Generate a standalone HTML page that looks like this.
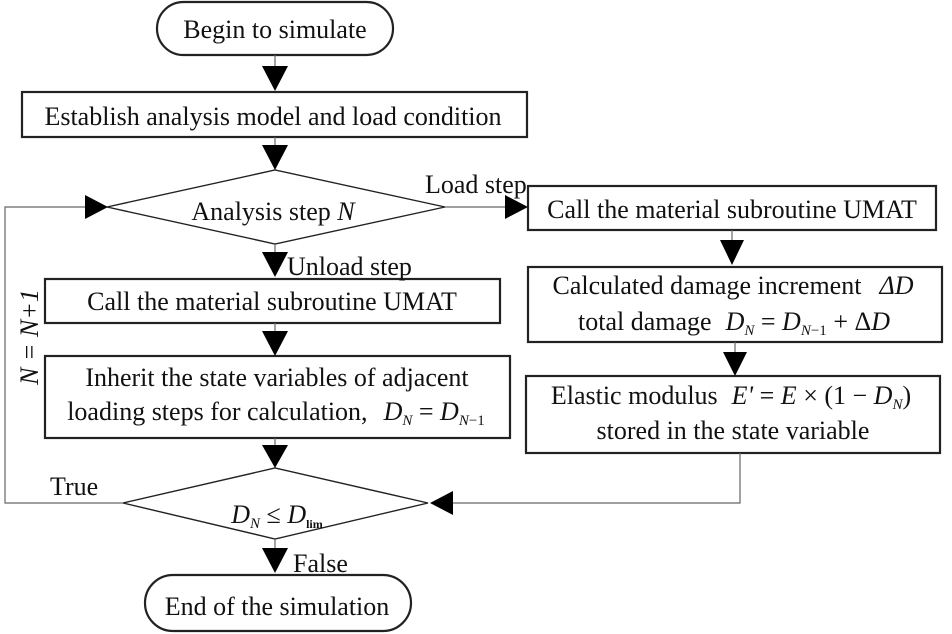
<!DOCTYPE html>
<html><head><style>
html,body{margin:0;padding:0;background:#fff;}
svg{display:block;font-family:"Liberation Serif",serif;}
text{font-size:26px;fill:#111;}
.i{font-style:italic;}
.s{font-size:15px;}
</style></head><body>
<svg width="952" height="634" viewBox="0 0 952 634" xmlns="http://www.w3.org/2000/svg">
<g fill="none" stroke="#222" stroke-width="2.2">
<rect x="157" y="2" width="236" height="53" rx="26.5"/>
<rect x="22" y="92" width="505" height="45"/>
<polygon points="107,207 275,170 445,207 275,244" stroke-width="1.4"/>
<rect x="45" y="279" width="455" height="44"/>
<rect x="45" y="356" width="465" height="82"/>
<polygon points="123,503 275,468 428,503 275,539" stroke-width="1.4"/>
<rect x="145" y="575" width="266" height="56" rx="28"/>
<rect x="528" y="186" width="408" height="44"/>
<rect x="528" y="267" width="414" height="75"/>
<rect x="526" y="376" width="414" height="77"/>
</g>
<g stroke="#666" stroke-width="1.2" fill="none">
<line x1="275" y1="55" x2="275" y2="66"/>
<line x1="275" y1="137" x2="275" y2="145"/>
<line x1="275" y1="244" x2="275" y2="252"/>
<line x1="275" y1="323" x2="275" y2="331"/>
<line x1="275" y1="438" x2="275" y2="445"/>
<line x1="275" y1="539" x2="275" y2="548"/>
<line x1="445" y1="207" x2="505" y2="207"/>
<line x1="732" y1="230" x2="732" y2="240"/>
<line x1="735" y1="342" x2="735" y2="352"/>
<polyline points="740,453 740,503 453,503"/>
<polyline points="123,503 5,503 5,207 85,207"/>
</g>
<g fill="#000">
<polygon points="262,66 288,66 275,91"/>
<polygon points="262,145 288,145 275,170"/>
<polygon points="262,252 288,252 275,277"/>
<polygon points="262,331 288,331 275,356"/>
<polygon points="262,445 288,445 275,468"/>
<polygon points="262,548 288,548 275,573"/>
<polygon points="505,195 505,219 528,207"/>
<polygon points="85,195 85,219 108,207"/>
<polygon points="720,240 744,240 732,265"/>
<polygon points="723,352 747,352 735,376"/>
<polygon points="453,491 453,515 430,503"/>
</g>
<text x="275" y="38" text-anchor="middle">Begin to simulate</text>
<text x="273" y="125" text-anchor="middle">Establish analysis model and load condition</text>
<text x="273" y="220" text-anchor="middle">Analysis step <tspan class="i">N</tspan></text>
<text x="425" y="193">Load step</text>
<text x="287" y="275">Unload step</text>
<text x="272" y="310" text-anchor="middle">Call the material subroutine UMAT</text>
<text x="277" y="386" text-anchor="middle">Inherit the state variables of adjacent</text>
<text x="276" y="420" text-anchor="middle">loading steps for calculation,<tspan dx="16" class="i">D</tspan><tspan class="i s" dy="5">N</tspan><tspan dy="-5"> = </tspan><tspan class="i">D</tspan><tspan class="i s" dy="5">N</tspan><tspan class="s">−1</tspan></text>
<text x="50" y="495">True</text>
<text x="277" y="523" text-anchor="middle" class="i">D<tspan class="s" dy="5">N</tspan><tspan dy="-5" style="font-style:normal"> ≤ </tspan>D<tspan dy="5" style="font-style:normal;font-weight:bold;font-size:12px">lim</tspan></text>
<text x="293" y="572">False</text>
<text x="277" y="615" text-anchor="middle">End of the simulation</text>
<text transform="translate(38,337) rotate(-90)" text-anchor="middle" class="i">N = N+1</text>
<text x="732" y="218" text-anchor="middle">Call the material subroutine UMAT</text>
<text x="733" y="294" text-anchor="middle">Calculated damage increment<tspan dx="18" class="i">ΔD</tspan></text>
<text x="734" y="330" text-anchor="middle">total damage<tspan dx="14" class="i">D</tspan><tspan class="i s" dy="5">N</tspan><tspan dy="-5"> = </tspan><tspan class="i">D</tspan><tspan class="i s" dy="5">N</tspan><tspan class="s">−1</tspan><tspan dy="-5"> + Δ</tspan><tspan class="i">D</tspan></text>
<text x="731" y="404" text-anchor="middle">Elastic modulus<tspan dx="14" class="i">E'</tspan> = <tspan class="i">E</tspan> × (1 − <tspan class="i">D</tspan><tspan class="i s" dy="5">N</tspan><tspan dy="-5">)</tspan></text>
<text x="733" y="439" text-anchor="middle">stored in the state variable</text>
</svg>
</body></html>
